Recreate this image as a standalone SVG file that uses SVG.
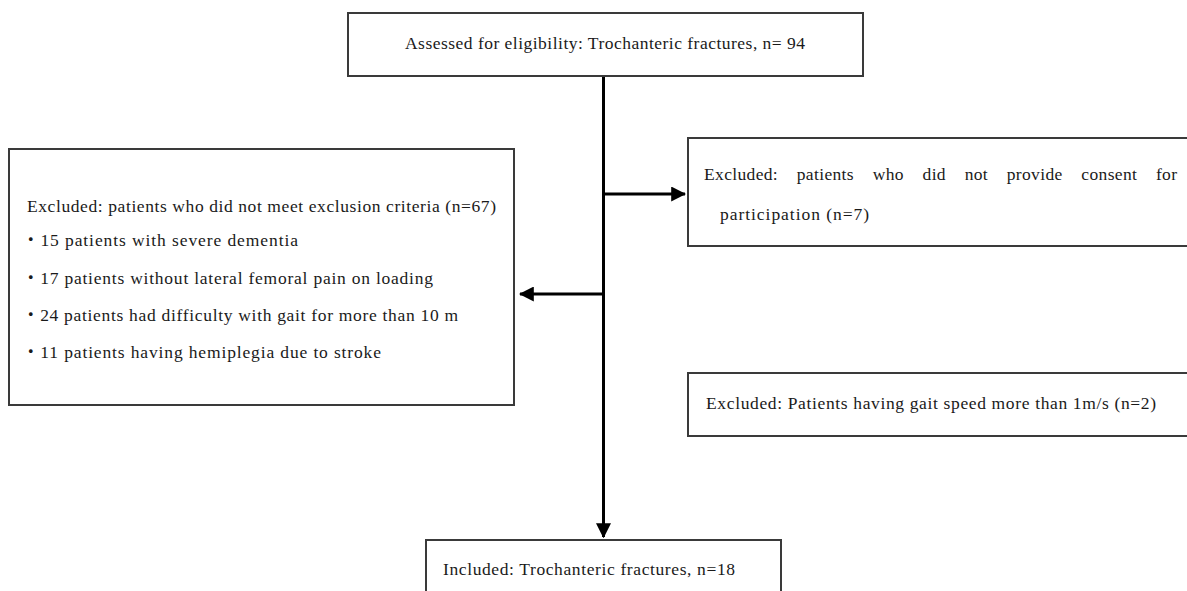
<svg xmlns="http://www.w3.org/2000/svg" width="1187" height="591" viewBox="0 0 1187 591">
<defs>
<style>
.box{fill:#fff;stroke:#3a3a3a;stroke-width:2}
.t{font-family:"Liberation Serif","Noto Sans CJK JP",serif;font-size:17.5px;fill:#1a1a1a}
.c{stroke:#000;stroke-width:3;fill:none}
</style>
<marker id="ah" markerWidth="5" markerHeight="5" refX="4.6" refY="2.5" orient="auto" markerUnits="strokeWidth">
<path d="M0,0 L5,2.5 L0,5 Z" fill="#000"/>
</marker>
</defs>
<rect width="1187" height="591" fill="#fff"/>
<g id="connectors">
<line class="c" x1="603.5" y1="76" x2="603.5" y2="537" marker-end="url(#ah)"/>
<line class="c" x1="603.5" y1="194" x2="685" y2="194" marker-end="url(#ah)"/>
<line class="c" x1="603.5" y1="294" x2="520" y2="294" marker-end="url(#ah)"/>
</g>
<g id="assessed">
<rect class="box" x="348" y="13" width="515" height="63"/>
<text class="t" x="405" y="49" textLength="400" lengthAdjust="spacing">Assessed for eligibility: Trochanteric fractures, n= 94</text>
</g>
<g id="excluded-criteria">
<rect class="box" x="9" y="149" width="505" height="256"/>
<text class="t" x="27" y="212" textLength="469" lengthAdjust="spacing">Excluded: patients who did not meet exclusion criteria (n=67)</text>
<text class="t" x="22" y="246" textLength="276" lengthAdjust="spacing">・15 patients with severe dementia</text>
<text class="t" x="22" y="284" textLength="411" lengthAdjust="spacing">・17 patients without lateral femoral pain on loading</text>
<text class="t" x="22" y="321" textLength="436" lengthAdjust="spacing">・24 patients had difficulty with gait for more than 10 m</text>
<text class="t" x="22" y="358" textLength="359" lengthAdjust="spacing">・11 patients having hemiplegia due to stroke</text>
</g>
<g id="excluded-consent">
<rect class="box" x="688" y="138" width="510" height="108"/>
<text class="t" x="704" y="180" textLength="473" lengthAdjust="spacing" word-spacing="14">Excluded: patients who did not provide consent for</text>
<text class="t" x="720" y="220" textLength="149" lengthAdjust="spacing">participation (n=7)</text>
</g>
<g id="excluded-speed">
<rect class="box" x="688" y="373" width="510" height="63"/>
<text class="t" x="706" y="409" textLength="450" lengthAdjust="spacing">Excluded: Patients having gait speed more than 1m/s (n=2)</text>
</g>
<g id="included">
<rect class="box" x="426" y="540" width="355" height="70"/>
<text class="t" x="443" y="575" textLength="292" lengthAdjust="spacing">Included: Trochanteric fractures, n=18</text>
</g>
</svg>
